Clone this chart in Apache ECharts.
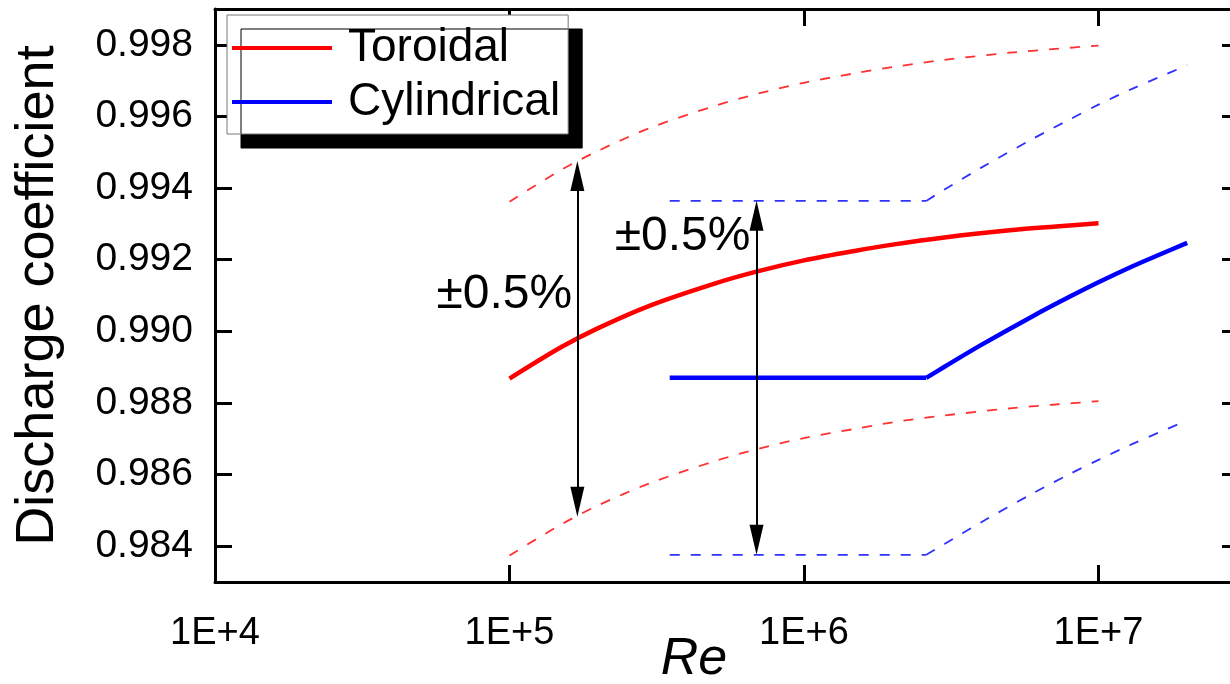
<!DOCTYPE html>
<html>
<head>
<meta charset="utf-8">
<script src="https://cdn.jsdelivr.net/npm/echarts@6/dist/echarts.min.js"></script>
<style>
html,body{margin:0;padding:0;background:#fff;}
#c{width:1230px;height:684px;}
</style>
</head>
<body>
<div id="c"></div>
<script>
// ---- data ----
const toroidalRe    = [1e5, 1.5e5, 2e5, 3e5, 5e5, 7e5, 1e6, 1.5e6, 2e6, 3e6, 5e6, 7e6, 1e7];
const toroidalCd    = [0.98868, 0.98956, 0.99009, 0.99072, 0.99134, 0.99168, 0.99198, 0.99225, 0.99242, 0.99262, 0.99282, 0.99292, 0.99302];
const toroidalUpper = [0.99362, 0.99451, 0.99504, 0.99568, 0.99630, 0.99664, 0.99694, 0.99721, 0.99738, 0.99758, 0.99778, 0.99788, 0.99798];
const toroidalLower = [0.98374, 0.98461, 0.98514, 0.98576, 0.98638, 0.98672, 0.98702, 0.98728, 0.98746, 0.98765, 0.98785, 0.98795, 0.98805];

// cylindrical: flat part up to the kink (index 1), then a curved rise
const cylRe    = [3.5e5, 2.6e6, 3e6, 4e6, 6e6, 8e6, 1e7, 1.3e7, 1.6e7, 2e7];
const cylCd    = [0.98870, 0.98870, 0.98901, 0.98962, 0.99043, 0.99097, 0.99137, 0.99181, 0.99213, 0.99247];
const cylUpper = [0.99364, 0.99364, 0.99396, 0.99457, 0.99538, 0.99592, 0.99633, 0.99677, 0.99709, 0.99743];
const cylLower = [0.98376, 0.98376, 0.98406, 0.98467, 0.98548, 0.98602, 0.98641, 0.98685, 0.98717, 0.98751];
const cylKink  = 1;

const xTickValues = [1e4, 1e5, 1e6, 1e7];
const xTickLabels = ['1E+4', '1E+5', '1E+6', '1E+7'];
const yTickValues = [0.984, 0.986, 0.988, 0.990, 0.992, 0.994, 0.996, 0.998];
const yTickLabels = ['0.984', '0.986', '0.988', '0.990', '0.992', '0.994', '0.996', '0.998'];

// double-headed arrows (Re, Cd top, Cd bottom) and their labels
const arrowRe     = [1.7e5, 6.9e5];
const arrowTop    = [0.99434, 0.99323];
const arrowBottom = [0.98524, 0.98418];
const noteText    = ['±0.5%', '±0.5%'];
const noteRe      = [9.6e4, 3.87e5];
const noteCd      = [0.99101, 0.99263];

// ---- chart ----
const FONT = "'Liberation Sans', Arial, sans-serif";
const pairs = (xs, ys) => xs.map((x, i) => [x, ys[i]]);
const flat = (xs, ys) => pairs(xs, ys).slice(0, cylKink + 1);
const rise = (xs, ys) => pairs(xs, ys).slice(cylKink);

const chart = echarts.init(document.getElementById('c'), null, {renderer: 'canvas'});

function xLabel(v) {
  for (let i = 0; i < xTickValues.length; i++) {
    if (Math.abs(Math.log10(v) - Math.log10(xTickValues[i])) < 1e-6) return xTickLabels[i];
  }
  return '';
}
function yLabel(v) {
  for (let i = 0; i < yTickValues.length; i++) {
    if (Math.abs(v - yTickValues[i]) < 1e-7) return yTickLabels[i];
  }
  return '';
}

const axisLine = {show: true, onZero: false, lineStyle: {color: '#000', width: 3}};
const tick = {show: true, inside: true, length: 17, lineStyle: {color: '#000', width: 3}};
const RED = '#ff0000', BLUE = '#0000ff', RED_D = '#ff3030', BLUE_D = '#3030ff';
const dash = (c) => ({color: c, width: 1.8, type: [10, 11]});

const option = {
  animation: false,
  backgroundColor: '#fff',
  grid: {left: 215, top: 9, right: -9, bottom: 102, containLabel: false, outerBoundsMode: 'none'},
  xAxis: [
    {
      type: 'log', logBase: 10, min: 1e4, max: 3e7, position: 'bottom',
      axisLine: axisLine, axisTick: tick, splitLine: {show: false}, minorTick: {show: false},
      axisLabel: {formatter: xLabel, fontSize: 38, fontFamily: FONT, color: '#000', margin: 33,
                  showMinLabel: true, showMaxLabel: false},
      name: 'Re', nameLocation: 'middle', nameGap: 52, nameMoveOverlap: false,
      nameTextStyle: {fontSize: 52, fontStyle: 'italic', fontFamily: FONT, color: '#000', padding: [0, 66, 0, 0]}
    },
    {
      type: 'log', logBase: 10, min: 1e4, max: 3e7, position: 'top',
      axisLine: axisLine, axisTick: tick, splitLine: {show: false}, axisLabel: {show: false}
    }
  ],
  yAxis: [
    {
      type: 'value', min: 0.983, max: 0.999, position: 'left',
      axisLine: axisLine,
      axisTick: Object.assign({}, tick, {customValues: yTickValues}),
      splitLine: {show: false},
      axisLabel: {customValues: yTickValues, formatter: yLabel, fontSize: 39, fontFamily: FONT, color: '#000', margin: 22},
      name: 'Discharge coefficient', nameLocation: 'middle', nameRotate: 90, nameGap: 150, nameMoveOverlap: false,
      nameTextStyle: {fontSize: 54, fontFamily: FONT, color: '#000'}
    },
    {
      type: 'value', min: 0.983, max: 0.999, position: 'right',
      axisLine: axisLine,
      axisTick: Object.assign({}, tick, {customValues: yTickValues}),
      splitLine: {show: false},
      axisLabel: {show: false, customValues: yTickValues}
    }
  ],
  legend: {
    data: ['Toroidal', 'Cylindrical'],
    orient: 'vertical', left: 227, top: 15,
    padding: [8, 8, 7, 5],
    itemWidth: 100, itemHeight: 4, itemGap: 4,
    icon: 'rect',
    backgroundColor: '#fff', borderColor: '#777', borderWidth: 1, borderRadius: 0,
    shadowColor: '#000', shadowOffsetX: 14, shadowOffsetY: 14, shadowBlur: 0,
    selectedMode: false,
    textStyle: {fontSize: 46, fontFamily: FONT, color: '#000', lineHeight: 50, padding: [0, 0, 0, 11]}
  },
  series: [
    {name: 'Toroidal', type: 'line', data: pairs(toroidalRe, toroidalCd), smooth: 0.3, showSymbol: false,
     lineStyle: {color: RED, width: 4.5}, itemStyle: {color: RED}, z: 3},
    {name: 'Toroidal +0.5%', type: 'line', data: pairs(toroidalRe, toroidalUpper), smooth: 0.3, showSymbol: false,
     lineStyle: dash(RED_D), z: 2},
    {name: 'Toroidal -0.5%', type: 'line', data: pairs(toroidalRe, toroidalLower), smooth: 0.3, showSymbol: false,
     lineStyle: dash(RED_D), z: 2},
    {name: 'Cylindrical', type: 'line', data: flat(cylRe, cylCd), showSymbol: false,
     lineStyle: {color: BLUE, width: 4.5}, itemStyle: {color: BLUE}, z: 3},
    {name: 'Cylindrical', type: 'line', data: rise(cylRe, cylCd), smooth: 0.3, showSymbol: false,
     lineStyle: {color: BLUE, width: 4.5}, itemStyle: {color: BLUE}, z: 3},
    {name: 'Cylindrical +0.5%', type: 'line', data: flat(cylRe, cylUpper), showSymbol: false, lineStyle: dash(BLUE_D), z: 2},
    {name: 'Cylindrical +0.5%', type: 'line', data: rise(cylRe, cylUpper), smooth: 0.3, showSymbol: false, lineStyle: dash(BLUE_D), z: 2},
    {name: 'Cylindrical -0.5%', type: 'line', data: flat(cylRe, cylLower), showSymbol: false, lineStyle: dash(BLUE_D), z: 2},
    {name: 'Cylindrical -0.5%', type: 'line', data: rise(cylRe, cylLower), smooth: 0.3, showSymbol: false, lineStyle: dash(BLUE_D), z: 2},
    {
      name: 'annotations', type: 'line', data: [], z: 4,
      markLine: {
        silent: true, animation: false,
        symbol: ['triangle', 'triangle'], symbolSize: [14, 30],
        label: {show: false},
        lineStyle: {color: '#000', width: 2, type: 'solid'},
        itemStyle: {color: '#000'},
        emphasis: {disabled: true},
        data: arrowRe.map((re, i) => [{coord: [re, arrowTop[i]]}, {coord: [re, arrowBottom[i]]}])
      },
      markPoint: {
        silent: true, animation: false,
        symbol: 'rect', symbolSize: 1,
        itemStyle: {color: 'rgba(0,0,0,0)'},
        label: {show: true, position: 'inside', formatter: '{b}', fontSize: 48, fontFamily: FONT, color: '#000'},
        data: noteText.map((t, i) => ({name: t, coord: [noteRe[i], noteCd[i]]}))
      }
    }
  ]
};
chart.setOption(option);
</script>
</body>
</html>
